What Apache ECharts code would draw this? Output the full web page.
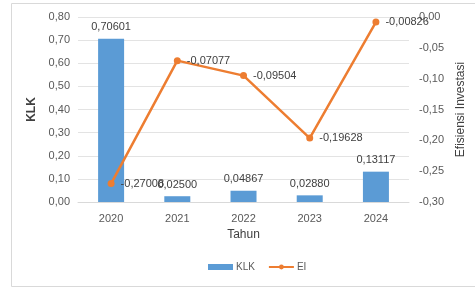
<!DOCTYPE html>
<html>
<head>
<meta charset="utf-8">
<script src="https://cdn.jsdelivr.net/npm/echarts@6/dist/echarts.min.js"></script>
<style>
  html, body { margin: 0; padding: 0; background: #fff; }
  #chart { width: 475px; height: 288px; }
</style>
</head>
<body>
<div id="chart"></div>
<script>
var years = ["2020", "2021", "2022", "2023", "2024"];
var klk = [0.70601, 0.025, 0.04867, 0.0288, 0.13117];
var ei = [-0.27008, -0.07077, -0.09504, -0.19628, -0.00826];

function fmt(v, d) {
  return v.toFixed(d).replace(".", ",");
}

var myChart = echarts.init(document.getElementById("chart"));
var font = "Liberation Sans";
var option = {
  animation: false,
  textStyle: { fontFamily: font },
  graphic: [
    {
      type: "rect",
      shape: { x: 11.5, y: 3.5, width: 470, height: 283 },
      style: { fill: "none", stroke: "#d9d9d9", lineWidth: 1 },
      silent: true,
    },
  ],
  legend: {
    bottom: 11,
    left: 203,
    itemWidth: 25,
    itemHeight: 6,
    itemGap: 13,
    textStyle: { color: "#595959", fontSize: 10, fontFamily: font, padding: [0, 0, 0, -2] },
    data: [
      { name: "KLK", icon: "rect" },
      { name: "EI" },
    ],
  },
  grid: {
    left: 78,
    right: 65,
    top: 17,
    bottom: 86,
  },
  xAxis: {
    type: "category",
    data: years,
    name: "Tahun",
    nameLocation: "middle",
    nameGap: 25,
    nameTextStyle: { color: "#404040", fontSize: 12 },
    axisTick: { show: false },
    axisLine: { lineStyle: { color: "#d9d9d9" } },
    axisLabel: { color: "#595959", fontSize: 11, margin: 11 },
  },
  yAxis: [
    {
      type: "value",
      min: 0,
      max: 0.8,
      interval: 0.1,
      name: "KLK",
      nameLocation: "middle",
      nameRotate: 90,
      nameGap: 37,
      nameTextStyle: { color: "#404040", fontSize: 12, fontWeight: "bold" },
      axisLine: { show: false },
      axisTick: { show: false },
      axisLabel: {
        color: "#595959",
        fontSize: 11,
        margin: 8,
        formatter: function (v) { return fmt(v, 2); },
      },
      splitLine: { lineStyle: { color: "#e3e3e3" } },
    },
    {
      type: "value",
      min: -0.3,
      max: 0,
      interval: 0.05,
      name: "Efisiensi Investasi",
      nameLocation: "middle",
      nameRotate: 90,
      nameGap: 33,
      nameTextStyle: { color: "#404040", fontSize: 12 },
      axisLine: { show: false },
      axisTick: { show: false },
      axisLabel: {
        color: "#595959",
        fontSize: 11,
        margin: 10,
        formatter: function (v) { return fmt(v, 2); },
      },
      splitLine: { show: false },
    },
  ],
  series: [
    {
      name: "KLK",
      type: "bar",
      barWidth: 26,
      yAxisIndex: 0,
      itemStyle: { color: "#5b9bd5" },
      label: {
        show: true,
        position: "top",
        color: "#404040",
        fontSize: 11,
        distance: 6,
        formatter: function (p) { return fmt(p.value, 5); },
      },
      data: klk,
    },
    {
      name: "EI",
      type: "line",
      yAxisIndex: 1,
      symbol: "circle",
      symbolSize: 7,
      lineStyle: { color: "#ed7d31", width: 2.5 },
      itemStyle: { color: "#ed7d31" },
      label: {
        show: true,
        position: "right",
        color: "#404040",
        fontSize: 11,
        distance: 6,
        formatter: function (p) { return fmt(p.value, 5); },
      },
      data: ei,
    },
  ],
};
myChart.setOption(option);
window.addEventListener("resize", function () {
  myChart.resize();
});
</script>
</body>
</html>
